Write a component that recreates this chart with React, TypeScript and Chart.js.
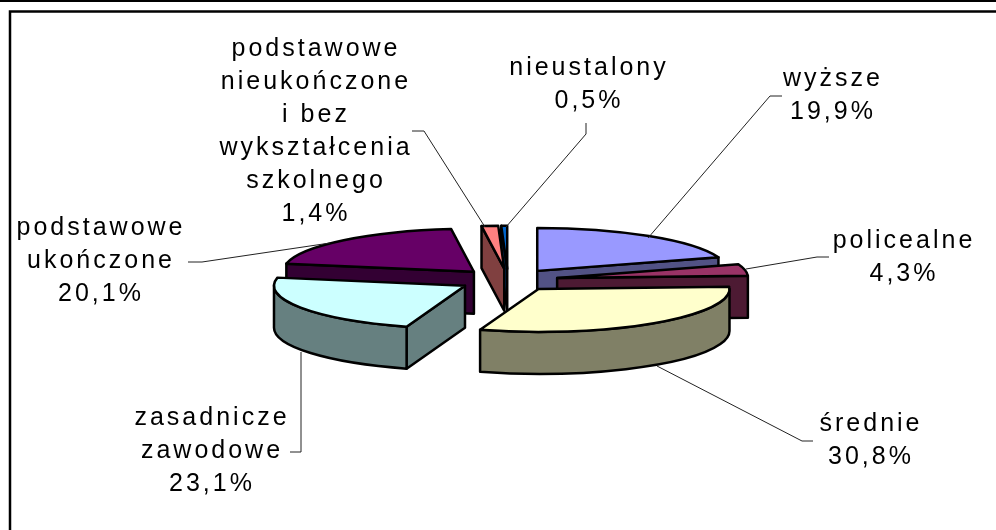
import React, { useEffect, useRef } from "react";
import { Chart, registerables } from "chart.js";

Chart.register(...registerables);

const categoryLines: string[][] = [
  ["wyższe"],
  ["policealne"],
  ["średnie"],
  ["zasadnicze", "zawodowe"],
  ["podstawowe", "ukończone"],
  ["podstawowe", "nieukończone", "i bez", "wykształcenia", "szkolnego"],
  ["nieustalony"],
];
const shares = [19.9, 4.3, 30.8, 23.1, 20.1, 1.4, 0.5];
const topColors = ["#9999FF", "#993366", "#FFFFCC", "#CCFFFF", "#660066", "#FF8080", "#0066CC"];
const sideColors = ["#525285", "#4D1A33", "#808066", "#668080", "#330033", "#804040", "#003366"];

// label placement: centre x, first baseline y
const labelCx = [833, 904, 871, 212, 101, 316, 589];
const labelY = [86, 248, 431, 425, 235, 56, 75];
const leaders: number[][][] = [
  [[648, 238], [770, 96], [782, 96]],
  [[746, 269], [817, 257], [829, 257]],
  [[657, 366], [802, 441], [813, 441]],
  [[301, 352], [301, 452], [290, 452]],
  [[330, 243], [202, 262], [188, 262]],
  [[485, 227], [424, 131], [412, 131]],
  [[506, 227], [586, 134], [586, 123]],
];

const SQUASH = 0.225;
const DEPTH = 42;
const LINE_H = 33;

const pie3d = {
  id: "pie3d",
  beforeDraw(chart: any) {
    const { ctx, width, height } = chart;
    ctx.save();
    ctx.fillStyle = "#fff";
    ctx.fillRect(0, 0, width, height);
    ctx.strokeStyle = "#000";
    ctx.lineWidth = 2;
    ctx.beginPath();
    ctx.moveTo(0, 1);
    ctx.lineTo(width, 1);
    ctx.stroke();
    ctx.lineWidth = 2.5;
    ctx.beginPath();
    ctx.moveTo(width, 11.5);
    ctx.lineTo(10, 11.5);
    ctx.lineTo(10, height);
    ctx.stroke();
    ctx.restore();
  },
  beforeDatasetsDraw(chart: any) {
    const { ctx } = chart;
    const arcs = chart.getDatasetMeta(0).data;
    const slices = arcs.map((arc: any, i: number) => {
      const mid = (arc.startAngle + arc.endAngle) / 2;
      const off = arc.options.offset || 0;
      return {
        i,
        s: arc.startAngle,
        e: arc.endAngle,
        r: arc.outerRadius,
        x: arc.x + Math.cos(mid) * off,
        y: arc.y + Math.sin(mid) * off * SQUASH,
        fill: arc.options.backgroundColor,
      };
    });
    slices.sort((a: any, b: any) => a.y - b.y);
    ctx.save();
    ctx.lineWidth = 2.5;
    ctx.lineJoin = "round";
    ctx.strokeStyle = "#000";
    const paint = (fill: string) => {
      ctx.fillStyle = fill;
      ctx.fill();
      ctx.stroke();
    };
    for (const p of slices) {
      const ry = p.r * SQUASH;
      const px = (a: number) => p.x + Math.cos(a) * p.r;
      const py = (a: number) => p.y + Math.sin(a) * ry;
      const face = (a: number) => {
        ctx.beginPath();
        ctx.moveTo(p.x, p.y);
        ctx.lineTo(px(a), py(a));
        ctx.lineTo(px(a), py(a) + DEPTH);
        ctx.lineTo(p.x, p.y + DEPTH);
        ctx.closePath();
        paint(sideColors[p.i]);
      };
      // radial walls that face the viewer
      if (Math.cos(p.s) < 0) face(p.s);
      if (Math.cos(p.e) > 0) face(p.e);
      // outer wall: only the near half of the rim shows
      const a0 = Math.max(p.s, 0);
      const a1 = Math.min(p.e, Math.PI);
      if (a1 > a0) {
        ctx.beginPath();
        ctx.ellipse(p.x, p.y, p.r, ry, 0, a0, a1);
        ctx.ellipse(p.x, p.y + DEPTH, p.r, ry, 0, a1, a0, true);
        ctx.closePath();
        paint(sideColors[p.i]);
      }
      ctx.beginPath();
      ctx.moveTo(p.x, p.y);
      ctx.ellipse(p.x, p.y, p.r, ry, 0, p.s, p.e);
      ctx.closePath();
      paint(p.fill);
    }
    ctx.restore();

    ctx.save();
    ctx.strokeStyle = "#222";
    ctx.lineWidth = 1;
    for (const line of leaders) {
      ctx.beginPath();
      line.forEach(([x, y], k) => (k ? ctx.lineTo(x, y) : ctx.moveTo(x, y)));
      ctx.stroke();
    }
    ctx.fillStyle = "#000";
    ctx.font = '25px "Liberation Sans", Arial, sans-serif';
    ctx.textAlign = "center";
    ctx.textBaseline = "alphabetic";
    (ctx as any).letterSpacing = "3px";
    categoryLines.forEach((lines, i) => {
      const text = [...lines, shares[i].toFixed(1).replace(".", ",") + "%"];
      text.forEach((t, k) => ctx.fillText(t, labelCx[i], labelY[i] + k * LINE_H));
    });
    ctx.restore();
    return false;
  },
};

export default function App() {
  const ref = useRef<HTMLCanvasElement>(null);
  useEffect(() => {
    const chart = new Chart(ref.current as HTMLCanvasElement, {
      type: "pie",
      data: {
        labels: categoryLines.map((l) => l.join(" ")),
        datasets: [
          {
            data: shares,
            backgroundColor: topColors,
            borderColor: "#000",
            borderWidth: 2,
            offset: 50,
            radius: 191,
          } as any,
        ],
      },
      options: {
        responsive: false,
        animation: false,
        layout: { padding: { left: 20, right: 0, top: 30, bottom: 0 } },
        plugins: { legend: { display: false }, tooltip: { enabled: false } },
      },
      plugins: [pie3d],
    } as any);
    return () => chart.destroy();
  }, []);
  return (
    <canvas
      ref={ref}
      width={996}
      height={530}
      style={{ position: "fixed", left: 0, top: 0, display: "block" }}
    />
  );
}
